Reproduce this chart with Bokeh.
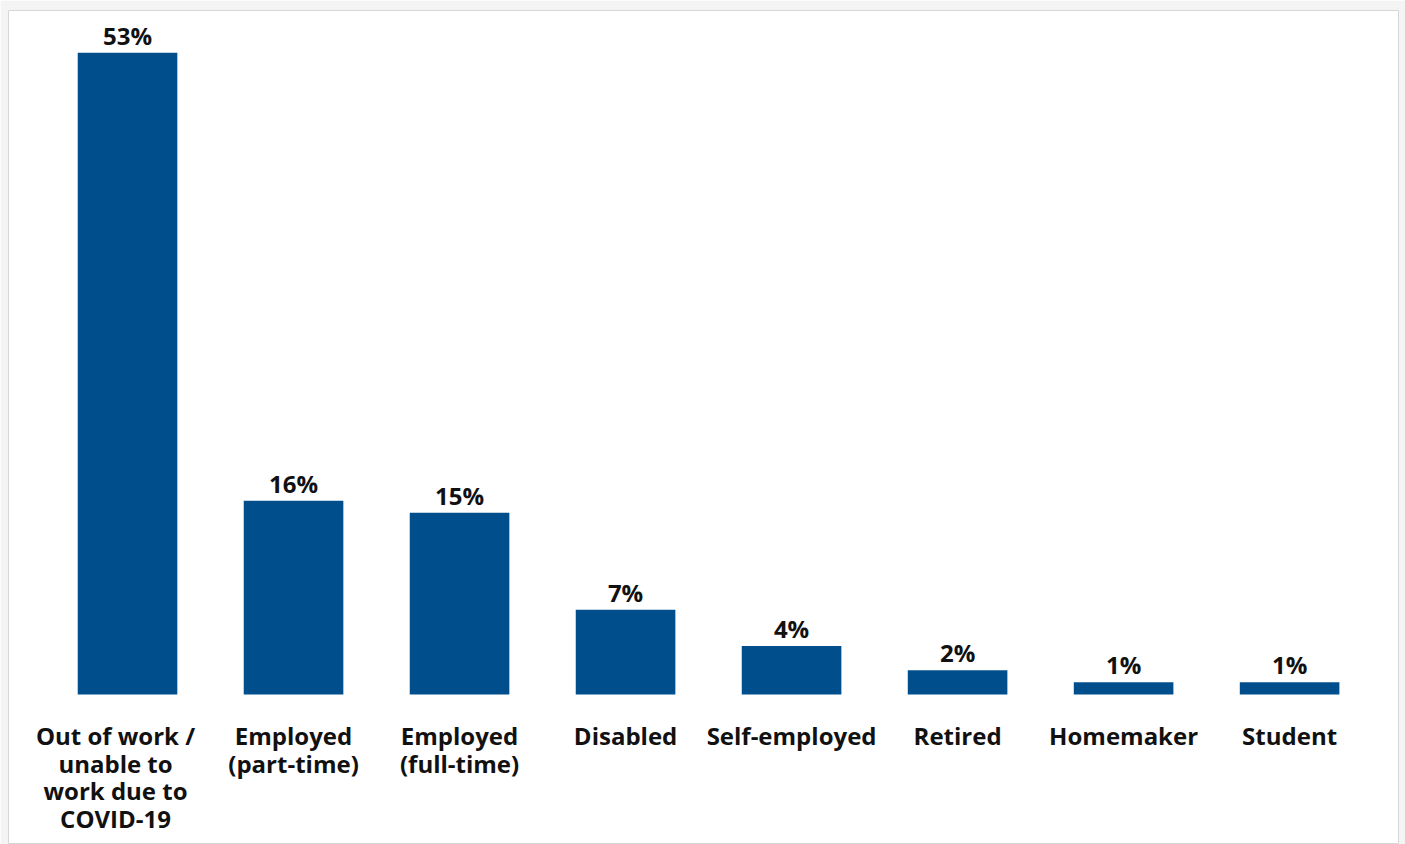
from bokeh.plotting import figure
from bokeh.models import ColumnDataSource, Range1d
from bokeh.core.properties import value
from bokeh.embed import file_html
from bokeh.resources import INLINE

categories = ["Out of work /\nunable to\nwork due to\nCOVID-19", "Employed\n(part-time)",
              "Employed\n(full-time)", "Disabled", "Self-employed", "Retired",
              "Homemaker", "Student"]
values = [53, 16, 15, 7, 4, 2, 1, 1]

xs = list(range(len(categories)))
src = ColumnDataSource(dict(
    x=xs,
    top=values,
    cat=categories,
    lab=[f"{v}%" for v in values],
    cat_off=[-12] + [0] * (len(categories) - 1),
))

p = figure(width=1405, height=844, output_backend="svg", toolbar_location=None,
           x_axis_type=None, y_axis_type=None,
           x_range=Range1d(-0.717, 7.656), y_range=Range1d(-12.39, 56.48),
           min_border_left=8, min_border_top=10, min_border_right=7, min_border_bottom=0)
p.border_fill_color = "#f4f4f4"
p.background_fill_color = "white"
p.outline_line_color = "#d6d6d6"
p.outline_line_width = 1
p.xgrid.visible = False
p.ygrid.visible = False

p.vbar(x="x", top="top", bottom=0, width=0.6, source=src,
       fill_color="#004F8C", line_color=None)

p.text(x="x", y="top", text="lab", source=src, text_align="center",
       text_baseline="bottom", y_offset=-1,
       text_font=value("Open Sans"), text_font_style="bold",
       text_font_size="24px", text_color="#111111")

p.text(x="x", y=0, text="cat", source=src, text_align="center",
       text_baseline="top", y_offset=25, x_offset="cat_off",
       text_font=value("Open Sans"), text_font_style="bold",
       text_font_size="24px", text_line_height=0.83, text_color="#111111")

open("out.html", "w").write(file_html(p, INLINE))
